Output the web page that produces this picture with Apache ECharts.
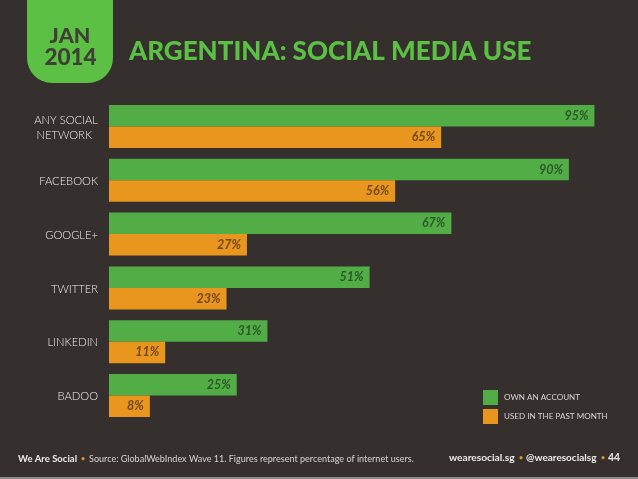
<!DOCTYPE html>
<html>
<head>
<meta charset="utf-8">
<style>
html,body{margin:0;padding:0;background:#35302e;}
#main{width:638px;height:479px;}
</style>
<script src="https://cdn.jsdelivr.net/npm/echarts@6/dist/echarts.min.js"></script>
</head>
<body>
<div id="main"></div>
<script>
var categories = ['ANY SOCIAL\nNETWORK', 'FACEBOOK', 'GOOGLE+', 'TWITTER', 'LINKEDIN', 'BADOO'];
var ownAccount = [95, 90, 67, 51, 31, 25];
var usedPastMonth = [65, 56, 27, 23, 11, 8];
var seriesNames = ['OWN AN ACCOUNT', 'USED IN THE PAST MONTH'];

var bg = '#35302e';
var green = '#53ad46';
var orange = '#e8961e';
var fontName = 'Lato';

var myChart = echarts.init(document.getElementById('main'), null, {renderer: 'canvas'});

function barLabel(color) {
    return {
        show: true,
        position: 'insideRight',
        distance: 6,
        formatter: '{c}%',
        color: color,
        fontFamily: fontName,
        fontWeight: 'bold',
        fontStyle: 'italic',
        fontSize: 12.5
    };
}

var option = {
    backgroundColor: bg,
    animation: false,
    title: {
        text: 'ARGENTINA: SOCIAL MEDIA USE',
        left: 124,
        top: 34,
        textStyle: {
            color: '#5bc044',
            fontFamily: fontName,
            fontWeight: 900,
            fontSize: 26
        }
    },
    grid: {left: 109, top: 99.6, width: 511, height: 322.8},
    legend: {
        orient: 'vertical',
        left: 478,
        top: 385,
        itemWidth: 15,
        itemHeight: 15,
        itemGap: 4,
        icon: 'rect',
        textStyle: {color: '#d8d5d0', fontFamily: fontName, fontSize: 8.1, padding: [0, 0, 0, 1]},
        data: seriesNames
    },
    xAxis: {
        type: 'value',
        min: 0,
        max: 100,
        show: false
    },
    yAxis: {
        type: 'category',
        inverse: true,
        data: categories,
        axisLine: {show: false},
        axisTick: {show: false},
        axisLabel: {
            margin: 11,
            color: '#f0ede8',
            fontFamily: fontName,
            fontWeight: 300,
            fontSize: 11.2,
            lineHeight: 15,
            padding: [2, 0, 0, 0],
            formatter: function(value) {
                var parts = value.split('\n');
                if (parts.length > 1) {
                    return '{top|' + parts[0] + '}\n{bottom|' + parts[1] + '}';
                }
                return value;
            },
            rich: {
                top: {color: '#f0ede8', fontFamily: fontName, fontWeight: 300, fontSize: 11.2, lineHeight: 15},
                bottom: {color: '#f0ede8', fontFamily: fontName, fontWeight: 300, fontSize: 11.2, lineHeight: 15, padding: [0, 6, 0, 0]}
            }
        }
    },
    series: [
        {
            name: seriesNames[0],
            type: 'bar',
            data: ownAccount,
            barWidth: 21.5,
            barGap: 0,
            itemStyle: {color: green},
            label: barLabel('#2b5a28')
        },
        {
            name: seriesNames[1],
            type: 'bar',
            data: usedPastMonth,
            barWidth: 21.5,
            itemStyle: {color: orange},
            label: barLabel('#74470f')
        }
    ],
    graphic: [
        // date tab top left
        {
            type: 'rect',
            shape: {x: 27, y: -30, width: 86, height: 113, r: 25},
            style: {fill: '#5bc044'}
        },
        {
            type: 'text',
            style: {
                x: 70, y: 36, text: 'JAN', align: 'center', verticalAlign: 'middle',
                fill: '#3f3f36', font: '900 21.5px Lato'
            }
        },
        {
            type: 'text',
            style: {
                x: 70.5, y: 58, text: '2014', align: 'center', verticalAlign: 'middle',
                fill: '#3f3f36', font: '900 22.5px Lato'
            }
        },
        // footer
        {
            type: 'text',
            style: {
                x: 18, y: 459, text: 'We Are Social', verticalAlign: 'middle',
                fill: '#eeeae4', font: 'bold 9.5px Lato'
            }
        },
        {
            type: 'text',
            style: {
                x: 81, y: 459, text: '•', verticalAlign: 'middle',
                fill: orange, font: 'bold 7px Lato'
            }
        },
        {
            type: 'text',
            style: {
                x: 89, y: 459, text: 'Source: GlobalWebIndex Wave 11. Figures represent percentage of internet users.',
                verticalAlign: 'middle', fill: '#d8d5d0', font: '9.05px Lato'
            }
        },
        {
            type: 'text',
            style: {
                x: 449, y: 458, text: 'wearesocial.sg', verticalAlign: 'middle',
                fill: '#eeeae4', font: 'bold 10.2px Lato'
            }
        },
        {
            type: 'text',
            style: {
                x: 519, y: 458, text: '•', verticalAlign: 'middle',
                fill: orange, font: 'bold 7px Lato'
            }
        },
        {
            type: 'text',
            style: {
                x: 526, y: 458, text: '@wearesocialsg', verticalAlign: 'middle',
                fill: '#eeeae4', font: 'bold 10px Lato'
            }
        },
        {
            type: 'text',
            style: {
                x: 601, y: 458, text: '•', verticalAlign: 'middle',
                fill: orange, font: 'bold 7px Lato'
            }
        },
        {
            type: 'text',
            style: {
                x: 608, y: 458, text: '44', verticalAlign: 'middle',
                fill: '#eeeae4', font: 'bold 10.4px Lato'
            }
        },
        // thin light line at the very bottom of the slide
        {
            type: 'rect',
            shape: {x: 0, y: 477, width: 638, height: 2},
            style: {fill: '#8f8d8b'}
        }
    ]
};

myChart.setOption(option);
</script>
</body>
</html>
